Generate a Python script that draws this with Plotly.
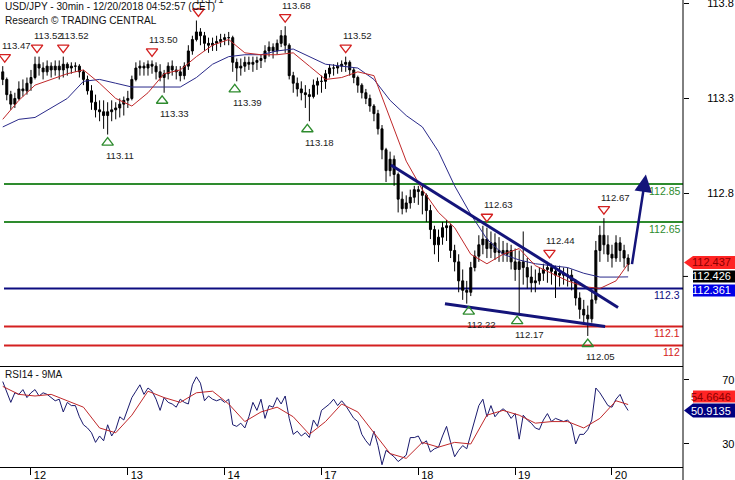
import plotly.graph_objects as go

# ---------------- data ----------------
day_labels = ["12", "13", "14", "17", "18", "19", "20"]
day_start_bar = [7, 31, 55, 79, 103, 127, 151]

open_ = [113.44,113.40,113.32,113.27,113.30,113.35,113.34,113.38,113.41,113.48,
         113.46,113.44,113.47,113.45,113.47,113.45,113.48,113.46,113.47,113.47,
         113.44,113.40,113.34,113.28,113.24,113.23,113.21,113.23,113.24,113.25,
         113.27,113.29,113.30,113.40,113.46,113.47,113.46,113.48,113.47,113.44,
         113.41,113.43,113.47,113.45,113.44,113.42,113.47,113.55,113.61,113.65,
         113.63,113.59,113.58,113.59,113.60,113.61,113.62,113.62,113.49,113.46,
         113.47,113.49,113.48,113.49,113.50,113.51,113.55,113.57,113.55,113.59,
         113.63,113.58,113.42,113.38,113.35,113.33,113.32,113.31,113.37,113.39,
         113.39,113.43,113.46,113.46,113.47,113.48,113.49,113.45,113.41,113.37,
         113.33,113.30,113.26,113.22,113.14,113.03,112.92,112.98,112.90,112.77,
         112.72,112.75,112.78,112.82,112.81,112.79,112.71,112.61,112.53,112.57,
         112.62,112.63,112.50,112.44,112.34,112.29,112.28,112.41,112.47,112.53,
         112.56,112.51,112.54,112.49,112.50,112.48,112.50,112.44,112.40,112.44,
         112.41,112.36,112.33,112.34,112.38,112.40,112.41,112.39,112.37,112.38,
         112.37,112.37,112.34,112.25,112.19,112.16,112.14,112.24,112.50,112.58,
         112.53,112.48,112.46,112.54,112.50,112.46]
high = [113.47,113.41,113.34,113.33,113.39,113.40,113.41,113.45,113.52,113.52,
        113.49,113.50,113.49,113.50,113.50,113.52,113.49,113.49,113.49,113.48,
        113.45,113.42,113.37,113.32,113.29,113.29,113.28,113.29,113.28,113.30,
        113.31,113.34,113.42,113.49,113.50,113.49,113.50,113.50,113.49,113.48,
        113.45,113.49,113.50,113.47,113.47,113.49,113.58,113.63,113.71,113.67,
        113.65,113.62,113.62,113.63,113.64,113.64,113.65,113.63,113.51,113.51,
        113.52,113.52,113.52,113.52,113.53,113.58,113.60,113.59,113.61,113.66,
        113.68,113.59,113.44,113.41,113.39,113.37,113.35,113.40,113.41,113.42,
        113.45,113.48,113.48,113.49,113.50,113.52,113.50,113.46,113.42,113.38,
        113.35,113.32,113.27,113.24,113.16,113.04,113.02,113.00,112.91,112.81,
        112.79,112.82,112.84,112.84,112.84,112.80,112.74,112.63,112.61,112.65,
        112.66,112.64,112.53,112.48,112.40,112.34,112.44,112.50,112.58,112.63,
        112.62,112.60,112.59,112.57,112.55,112.54,112.53,112.51,112.50,112.60,
        112.46,112.42,112.40,112.41,112.43,112.44,112.43,112.42,112.42,112.41,
        112.41,112.40,112.35,112.28,112.24,112.21,112.29,112.55,112.63,112.67,
        112.58,112.53,112.58,112.57,112.53,112.48]
low = [113.37,113.29,113.24,113.25,113.29,113.31,113.32,113.34,113.40,113.42,
       113.40,113.42,113.41,113.42,113.40,113.41,113.42,113.43,113.44,113.41,
       113.37,113.32,113.24,113.20,113.18,113.14,113.11,113.18,113.19,113.20,
       113.21,113.25,113.29,113.39,113.42,113.42,113.42,113.43,113.40,113.39,
       113.33,113.40,113.42,113.40,113.39,113.40,113.45,113.53,113.60,113.58,
       113.55,113.54,113.55,113.55,113.57,113.58,113.58,113.44,113.39,113.42,
       113.44,113.45,113.44,113.45,113.46,113.49,113.52,113.51,113.53,113.57,
       113.54,113.40,113.33,113.31,113.29,113.25,113.18,113.30,113.32,113.33,
       113.35,113.41,113.42,113.43,113.44,113.44,113.42,113.38,113.33,113.30,
       113.27,113.23,113.18,113.11,112.98,112.86,112.89,112.84,112.70,112.69,
       112.70,112.72,112.75,112.74,112.69,112.65,112.56,112.48,112.44,112.53,
       112.55,112.46,112.39,112.28,112.24,112.22,112.26,112.39,112.44,112.48,
       112.46,112.46,112.45,112.44,112.44,112.44,112.40,112.34,112.17,112.32,
       112.30,112.28,112.28,112.32,112.34,112.33,112.32,112.25,112.31,112.32,
       112.31,112.29,112.21,112.14,112.11,112.05,112.12,112.22,112.44,112.48,
       112.44,112.41,112.44,112.44,112.41,112.39]
close = [113.40,113.32,113.27,113.30,113.35,113.34,113.38,113.41,113.48,113.46,
         113.44,113.47,113.45,113.47,113.45,113.48,113.46,113.47,113.47,113.44,
         113.40,113.34,113.28,113.24,113.23,113.21,113.23,113.24,113.25,113.27,
         113.29,113.30,113.40,113.46,113.47,113.46,113.48,113.47,113.44,113.41,
         113.43,113.47,113.45,113.44,113.42,113.47,113.55,113.61,113.65,113.63,
         113.59,113.58,113.59,113.60,113.61,113.62,113.62,113.49,113.46,113.47,
         113.49,113.48,113.49,113.50,113.51,113.55,113.57,113.55,113.59,113.63,
         113.58,113.42,113.38,113.35,113.33,113.32,113.31,113.37,113.39,113.39,
         113.43,113.46,113.46,113.47,113.48,113.49,113.45,113.41,113.37,113.33,
         113.30,113.26,113.22,113.14,113.03,112.92,112.98,112.90,112.77,112.72,
         112.75,112.78,112.82,112.81,112.79,112.71,112.61,112.53,112.57,112.62,
         112.63,112.50,112.44,112.34,112.29,112.28,112.41,112.47,112.53,112.56,
         112.51,112.54,112.49,112.50,112.48,112.50,112.44,112.40,112.44,112.41,
         112.36,112.33,112.34,112.38,112.40,112.41,112.39,112.37,112.38,112.37,
         112.37,112.34,112.25,112.19,112.16,112.14,112.24,112.50,112.58,112.53,
         112.48,112.46,112.54,112.50,112.46,112.426]
bars = list(range(len(close)))

ma_bars = list(range(0, 153, 4)) + [155]
ma_red = [113.19,113.29,113.37,113.40,113.43,113.45,113.38,113.30,113.26,113.33,
          113.43,113.45,113.52,113.58,113.61,113.54,113.53,113.53,113.54,113.47,
          113.40,113.41,113.44,113.42,113.19,112.97,112.82,112.70,112.62,112.48,
          112.43,112.48,112.51,112.42,112.38,112.34,112.31,112.30,112.34,112.43]
ma_blue = [113.15,113.19,113.20,113.25,113.30,113.39,113.40,113.38,113.36,113.36,
           113.36,113.36,113.41,113.48,113.52,113.53,113.53,113.55,113.56,113.52,
           113.48,113.47,113.46,113.40,113.29,113.21,113.15,113.02,112.84,112.69,
           112.56,112.48,112.45,112.43,112.42,112.41,112.38,112.36,112.36,112.361]

rsi = [69,63,56,62,61,64,59,62,64,60,
       62,61,59,57,58,50,56,54,54,47,
       42,40,37,31,35,32,42,35,39,47,
       45,52,59,63,67,61,65,63,58,51,
       59,56,55,53,58,56,55,67,72,68,
       57,60,58,57,58,56,58,42,41,43,
       40,47,56,51,58,46,54,53,59,55,
       60,46,36,38,35,37,34,45,41,51,
       53,55,58,54,57,54,50,46,44,36,
       32,29,38,29,17,26,24,22,19,21,
       23,34,34,35,30,32,25,27,28,35,
       41,31,22,26,29,27,36,44,54,58,
       47,54,47,50,52,50,46,49,33,48,
       45,43,40,39,45,49,44,46,45,44,
       45,42,30,36,36,39,45,65,62,58,
       54,53,58,61,55,50.91]
rsi_ma = [66,61,60,61,57,53,40,37,48,63,59,56,62,63,55,44,50,53,47,36,
          44,55,50,37,24,21,31,28,31,30,48,51,48,43,44,44,40,46,57,54.66]

res_bar = [0.5, 8.5, 15, 37, 48.5, 70, 85, 120, 135.5, 149]
res_val = [113.47, 113.52, 113.52, 113.50, 113.71, 113.68, 113.52, 112.63, 112.44, 112.67]
sup_bar = [26, 39.5, 57.5, 75.5, 115.5, 127.5, 145]
sup_val = [113.11, 113.33, 113.39, 113.18, 112.22, 112.17, 112.05]

levels = [112.85, 112.65, 112.3, 112.1, 112.0]
level_text = ["112.85", "112.65", "112.3", "112.1", "112"]

trend_up_bar = [96.2, 152.5]
trend_up_val = [112.95, 112.20]
trend_lo_bar = [109.6, 149.3]
trend_lo_val = [112.22, 112.10]
target_bar = [155.9, 159.4]
target_val = [112.42, 112.90]

price_tick_vals = [112.8, 113.3, 113.8]
rsi_tick_vals = [30, 70]

red_ma_last = 112.437
last_close = 112.426
blue_ma_last = 112.361
rsi_last = 50.9135
rsi_ma_last = 54.6646

# ---------------- styles ----------------
FONT = "Liberation Sans, Arial, sans-serif"
NAVY = "#14147a"
RED_MA = "#c0282a"
GREEN = "#2e8b2e"
RED = "#d42020"
level_colors = [GREEN, GREEN, "#0c0c80", RED, RED]

W, H = 735, 480
ML, MR, MT, MB = 0, 52, 0, 13
plot_h = H - MT - MB           # 467
rsi_h = 101
split = rsi_h / plot_h
y_rng = [111.892, 113.818]
px_per_unit = (plot_h - rsi_h) / (y_rng[1] - y_rng[0])
x_rng = [-0.68, 168.6]

fig = go.Figure()

fig.add_trace(go.Candlestick(
    x=bars, open=open_, high=high, low=low, close=close,
    increasing=dict(line=dict(color="black", width=1), fillcolor="black"),
    decreasing=dict(line=dict(color="black", width=1), fillcolor="black"),
    whiskerwidth=0, showlegend=False, xaxis="x", yaxis="y", hoverinfo="none"))

fig.add_trace(go.Scatter(x=ma_bars, y=ma_blue, mode="lines",
                         line=dict(color="#2a2a8a", width=1), showlegend=False,
                         hoverinfo="skip"))
fig.add_trace(go.Scatter(x=ma_bars, y=ma_red, mode="lines",
                         line=dict(color=RED_MA, width=1), showlegend=False,
                         hoverinfo="skip"))

for bx, by in [(trend_up_bar, trend_up_val), (trend_lo_bar, trend_lo_val)]:
    fig.add_trace(go.Scatter(x=bx, y=by, mode="lines",
                             line=dict(color=NAVY, width=3), showlegend=False,
                             hoverinfo="skip"))

fig.add_trace(go.Scatter(
    x=res_bar, y=[v + 9 / px_per_unit for v in res_val], mode="markers",
    marker=dict(symbol="triangle-down-open", size=10, color=RED,
                line=dict(width=1.3, color=RED)),
    showlegend=False, hoverinfo="skip", cliponaxis=False))
fig.add_trace(go.Scatter(
    x=sup_bar, y=[v - 8 / px_per_unit for v in sup_val], mode="markers",
    marker=dict(symbol="triangle-up-open", size=10, color=GREEN,
                line=dict(width=1.3, color=GREEN)),
    showlegend=False, hoverinfo="skip", cliponaxis=False))

# RSI panel
fig.add_trace(go.Scatter(x=bars, y=rsi, mode="lines", xaxis="x2", yaxis="y2",
                         line=dict(color="#1a1a6e", width=1), showlegend=False,
                         hoverinfo="skip"))
fig.add_trace(go.Scatter(x=ma_bars, y=rsi_ma, mode="lines", xaxis="x2", yaxis="y2",
                         line=dict(color=RED_MA, width=1), showlegend=False,
                         hoverinfo="skip"))

shapes = []
annotations = []

for lv, col in zip(levels, level_colors):
    shapes.append(dict(type="line", xref="paper", yref="y", x0=4 / (W - MR), x1=1,
                       y0=lv, y1=lv, line=dict(color=col, width=2), layer="below"))
for lv, txt, col in zip(levels, level_text, level_colors):
    annotations.append(dict(xref="paper", yref="y", x=1, y=lv, text=txt,
                            showarrow=False, xanchor="right", yanchor="middle",
                            xshift=-1, yshift=-7, font=dict(size=10.5, color=col)))

for b, v in zip(res_bar, res_val):
    annotations.append(dict(xref="x", yref="y", x=b, y=v, text=f"{v:.2f}",
                            showarrow=False, xanchor="left", yanchor="middle",
                            xshift=-5, yshift=21, font=dict(size=9.6, color="#222")))
for b, v in zip(sup_bar, sup_val):
    annotations.append(dict(xref="x", yref="y", x=b, y=v, text=f"{v:.2f}",
                            showarrow=False, xanchor="left", yanchor="middle",
                            xshift=-4, yshift=-21, font=dict(size=9.6, color="#222")))

# target arrow
annotations.append(dict(xref="x", yref="y", axref="x", ayref="y",
                        x=target_bar[1], y=target_val[1],
                        ax=target_bar[0], ay=target_val[0], text="",
                        showarrow=True, arrowhead=2, arrowsize=1.4,
                        arrowwidth=2.5, arrowcolor=NAVY))

# titles
annotations.append(dict(xref="paper", yref="paper", x=0, y=1, xshift=3, yshift=-6,
                        xanchor="left", yanchor="middle", showarrow=False,
                        text="USD/JPY - 30min - 12/20/2018 04:52:57 (CET)",
                        font=dict(size=10.1, color="#111")))
annotations.append(dict(xref="paper", yref="paper", x=0, y=1, xshift=3, yshift=-20,
                        xanchor="left", yanchor="middle", showarrow=False,
                        text="Research © TRADING CENTRAL",
                        font=dict(size=10.1, color="#111")))
annotations.append(dict(xref="paper", yref="paper", x=0, y=split, xshift=3, yshift=-8,
                        xanchor="left", yanchor="middle", showarrow=False,
                        text="RSI14 - 9MA", font=dict(size=10, color="#111")))

# value boxes on the price axis
def box(yref, anchor, path, fill):
    return dict(type="path", xref="paper", yref=yref, xsizemode="pixel",
                ysizemode="pixel", xanchor=1, yanchor=anchor, path=path,
                fillcolor=fill, line=dict(width=0), layer="above")

def box_text(yref, anchor, txt, color, shift):
    return dict(xref="paper", yref=yref, x=1, y=anchor, text=txt, showarrow=False,
                xanchor="right", yanchor="middle", xshift=MR - 2, yshift=shift,
                font=dict(size=11, color=color))

shapes.append(box("y", red_ma_last, "M 1 0 L 10 6.5 L 52 6.5 L 52 -6.5 L 10 -6.5 Z", "#ff2424"))
shapes.append(box("y", red_ma_last, "M 10 -8 L 52 -8 L 52 -20 L 10 -20 Z", "#000000"))
tick_shape = box("y", red_ma_last, "M 0 -14 L 5 -14", "#000000")
tick_shape["line"] = dict(color="black", width=1)
shapes.append(tick_shape)
shapes.append(box("y", red_ma_last, "M 10 -22 L 52 -22 L 52 -34 L 10 -34 Z", "#0000e6"))
annotations.append(box_text("y", red_ma_last, f"{red_ma_last:.3f}", "#8a0000", 0))
annotations.append(box_text("y", red_ma_last, f"{last_close:.3f}", "white", -14))
annotations.append(box_text("y", red_ma_last, f"{blue_ma_last:.3f}", "white", -28))

shapes.append(box("y2", rsi_last, "M 1 0 L 10 7 L 52 7 L 52 -7 L 10 -7 Z", "#000080"))
shapes.append(box("y2", rsi_last, "M 10 8 L 52 8 L 52 20 L 10 20 Z", "#ff2424"))
annotations.append(box_text("y2", rsi_last, f"{rsi_last:.4f}", "white", 0))
annotations.append(box_text("y2", rsi_last, f"{rsi_ma_last:.4f}", "#8a0000", 14))

# right border line
shapes.append(dict(type="line", xref="paper", yref="paper", x0=1, x1=1, y0=-0.03, y1=1,
                   line=dict(color="black", width=1)))

fig.update_layout(
    width=W, height=H, margin=dict(l=ML, r=MR, t=MT, b=MB),
    template="none", paper_bgcolor="white", plot_bgcolor="white",
    font=dict(family=FONT, color="black"),
    showlegend=False, shapes=shapes, annotations=annotations,
    xaxis=dict(domain=[0, 1], anchor="y", range=x_rng, showticklabels=False,
               ticks="", showgrid=False, zeroline=False, showline=True,
               linecolor="black", linewidth=1, rangeslider=dict(visible=False),
               automargin=False),
    xaxis2=dict(domain=[0, 1], anchor="y2", range=x_rng, matches="x",
                tickvals=day_start_bar, ticktext=day_labels, ticks="outside",
                ticklen=7, tickcolor="black", showgrid=False, zeroline=False,
                showline=True, linecolor="black", linewidth=1,
                tickfont=dict(size=11, color="black"), ticklabelshift=9,
                ticklabelstandoff=-9, automargin=False),
    yaxis=dict(domain=[split, 1], anchor="x", side="right", range=y_rng,
               tickvals=price_tick_vals, ticktext=[f"{v:.1f}" for v in price_tick_vals],
               ticks="outside", ticklen=5, tickcolor="black", showgrid=False,
               zeroline=False, showline=False, tickfont=dict(size=11, color="black"),
               ticklabelstandoff=16, ticklabeloverflow="allow", automargin=False),
    yaxis2=dict(domain=[0, split], anchor="x2", side="right", range=[15.6, 78.75],
                tickvals=rsi_tick_vals, ticks="outside", ticklen=5, tickcolor="black",
                showgrid=False, zeroline=False, showline=False,
                tickfont=dict(size=11, color="black"), ticklabelstandoff=31,
                automargin=False),
)

fig.write_html("out.html", config={"displayModeBar": False},
               post_script="document.body.style.margin='0';")
